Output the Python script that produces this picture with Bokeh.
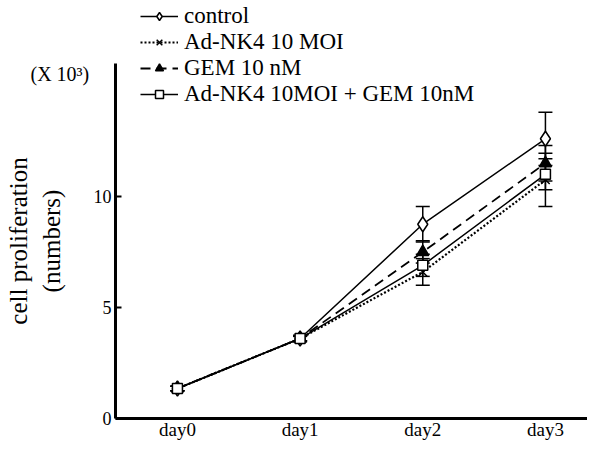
from bokeh.plotting import figure
from bokeh.models import (ColumnDataSource, Legend, LegendItem, Whisker, TeeHead,
                          FixedTicker, Label, Range1d)
from bokeh.embed import file_html
from bokeh.resources import INLINE

days = [0, 1, 2, 3]
day_labels = ["day0", "day1", "day2", "day3"]
series_names = ["control", "Ad-NK4 10 MOI", "GEM 10 nM", "Ad-NK4 10MOI + GEM 10nM"]
control = [1.35, 3.6, 8.75, 12.6]
control_err = [0.1, 0.15, 0.8, 1.2]
adnk4 = [1.35, 3.6, 6.6, 10.75]
adnk4_err = [0.1, 0.1, 0.6, 1.2]
gem = [1.35, 3.6, 7.5, 11.5]
gem_err = [0.1, 0.1, 0.5, 0.8]
combo = [1.35, 3.6, 6.9, 11.0]
combo_err = [0.1, 0.1, 0.5, 0.7]
y_ticks = [0, 5, 10]
unit_text = "(X 10³)"

FONT = "Liberation Serif"
X_LEFT = -0.505
X_RIGHT = 3.343

p = figure(width=587, height=445, output_backend="svg", toolbar_location=None,
           x_range=Range1d(-1.4425, X_RIGHT), y_range=Range1d(-1.22, 18.83),
           min_border_left=0, min_border_right=0, min_border_top=0, min_border_bottom=0)
p.grid.visible = False
p.outline_line_color = None
p.background_fill_color = "white"

styles = [
    (control, control_err, "solid", 1.5, "diamond", 15, "white"),
    (adnk4, adnk4_err, "2 2", 2.2, "x", 12, "black"),
    (gem, gem_err, "10 6", 1.8, "triangle", 12, "black"),
    (combo, combo_err, "solid", 1.5, "square", 10, "white"),
]

items = []
for name, (vals, errs, dash, lw, marker, size, fill) in zip(series_names, styles):
    src = ColumnDataSource(dict(x=days, y=vals,
                                upper=[v + e for v, e in zip(vals, errs)],
                                lower=[v - e for v, e in zip(vals, errs)]))
    w = Whisker(base="x", upper="upper", lower="lower", source=src,
                line_color="black", line_width=1.5,
                upper_head=TeeHead(size=14, line_color="black", line_width=1.5),
                lower_head=TeeHead(size=14, line_color="black", line_width=1.5))
    p.add_layout(w)
    r1 = p.line("x", "y", source=src, line_color="black", line_width=lw, line_dash=dash)
    r2 = p.scatter("x", "y", source=src, marker=marker, size=size, line_color="black",
                   fill_color=fill, line_width=1.5)
    items.append(LegendItem(label=name, renderers=[r1, r2]))

legend = Legend(items=items, location=(140, 338), label_text_font=FONT,
                label_text_font_size="23px", label_text_color="black",
                glyph_width=38, glyph_height=20,
                label_height=24, spacing=0, padding=0, margin=0, label_standoff=6,
                background_fill_alpha=0, border_line_color=None)
p.add_layout(legend)

p.add_layout(Label(x=30, y=361, x_units="screen", y_units="screen", text=unit_text,
                   text_font=FONT, text_font_size="20px", text_color="black"))

p.xaxis.fixed_location = 0
p.xaxis.ticker = FixedTicker(ticks=days)
p.xaxis.major_label_overrides = {d: l for d, l in zip(days, day_labels)}
p.xaxis.bounds = (X_LEFT, X_RIGHT)
p.xaxis.major_tick_in = 0
p.xaxis.major_tick_out = 0
p.xaxis.minor_tick_line_color = None
p.xaxis.axis_line_width = 3
p.xaxis.major_label_text_font = FONT
p.xaxis.major_label_text_font_size = "19px"
p.xaxis.major_label_text_color = "black"
p.xaxis.major_label_standoff = 1

p.yaxis.fixed_location = X_LEFT
p.yaxis.ticker = FixedTicker(ticks=y_ticks)
p.yaxis.bounds = (0, 16)
p.yaxis.major_tick_in = 6
p.yaxis.major_tick_out = 0
p.yaxis.major_tick_line_width = 2
p.yaxis.minor_tick_line_color = None
p.yaxis.axis_line_width = 3
p.yaxis.major_label_text_font = FONT
p.yaxis.major_label_text_font_size = "18px"
p.yaxis.major_label_text_color = "black"
p.yaxis.major_label_standoff = 4
p.yaxis.axis_label = "cell proliferation\n(numbers)"
p.yaxis.axis_label_text_font = FONT
p.yaxis.axis_label_text_font_style = "normal"
p.yaxis.axis_label_text_font_size = "25px"
p.yaxis.axis_label_text_color = "black"
p.yaxis.axis_label_standoff = 26

open("out.html", "w").write(file_html(p, INLINE))
